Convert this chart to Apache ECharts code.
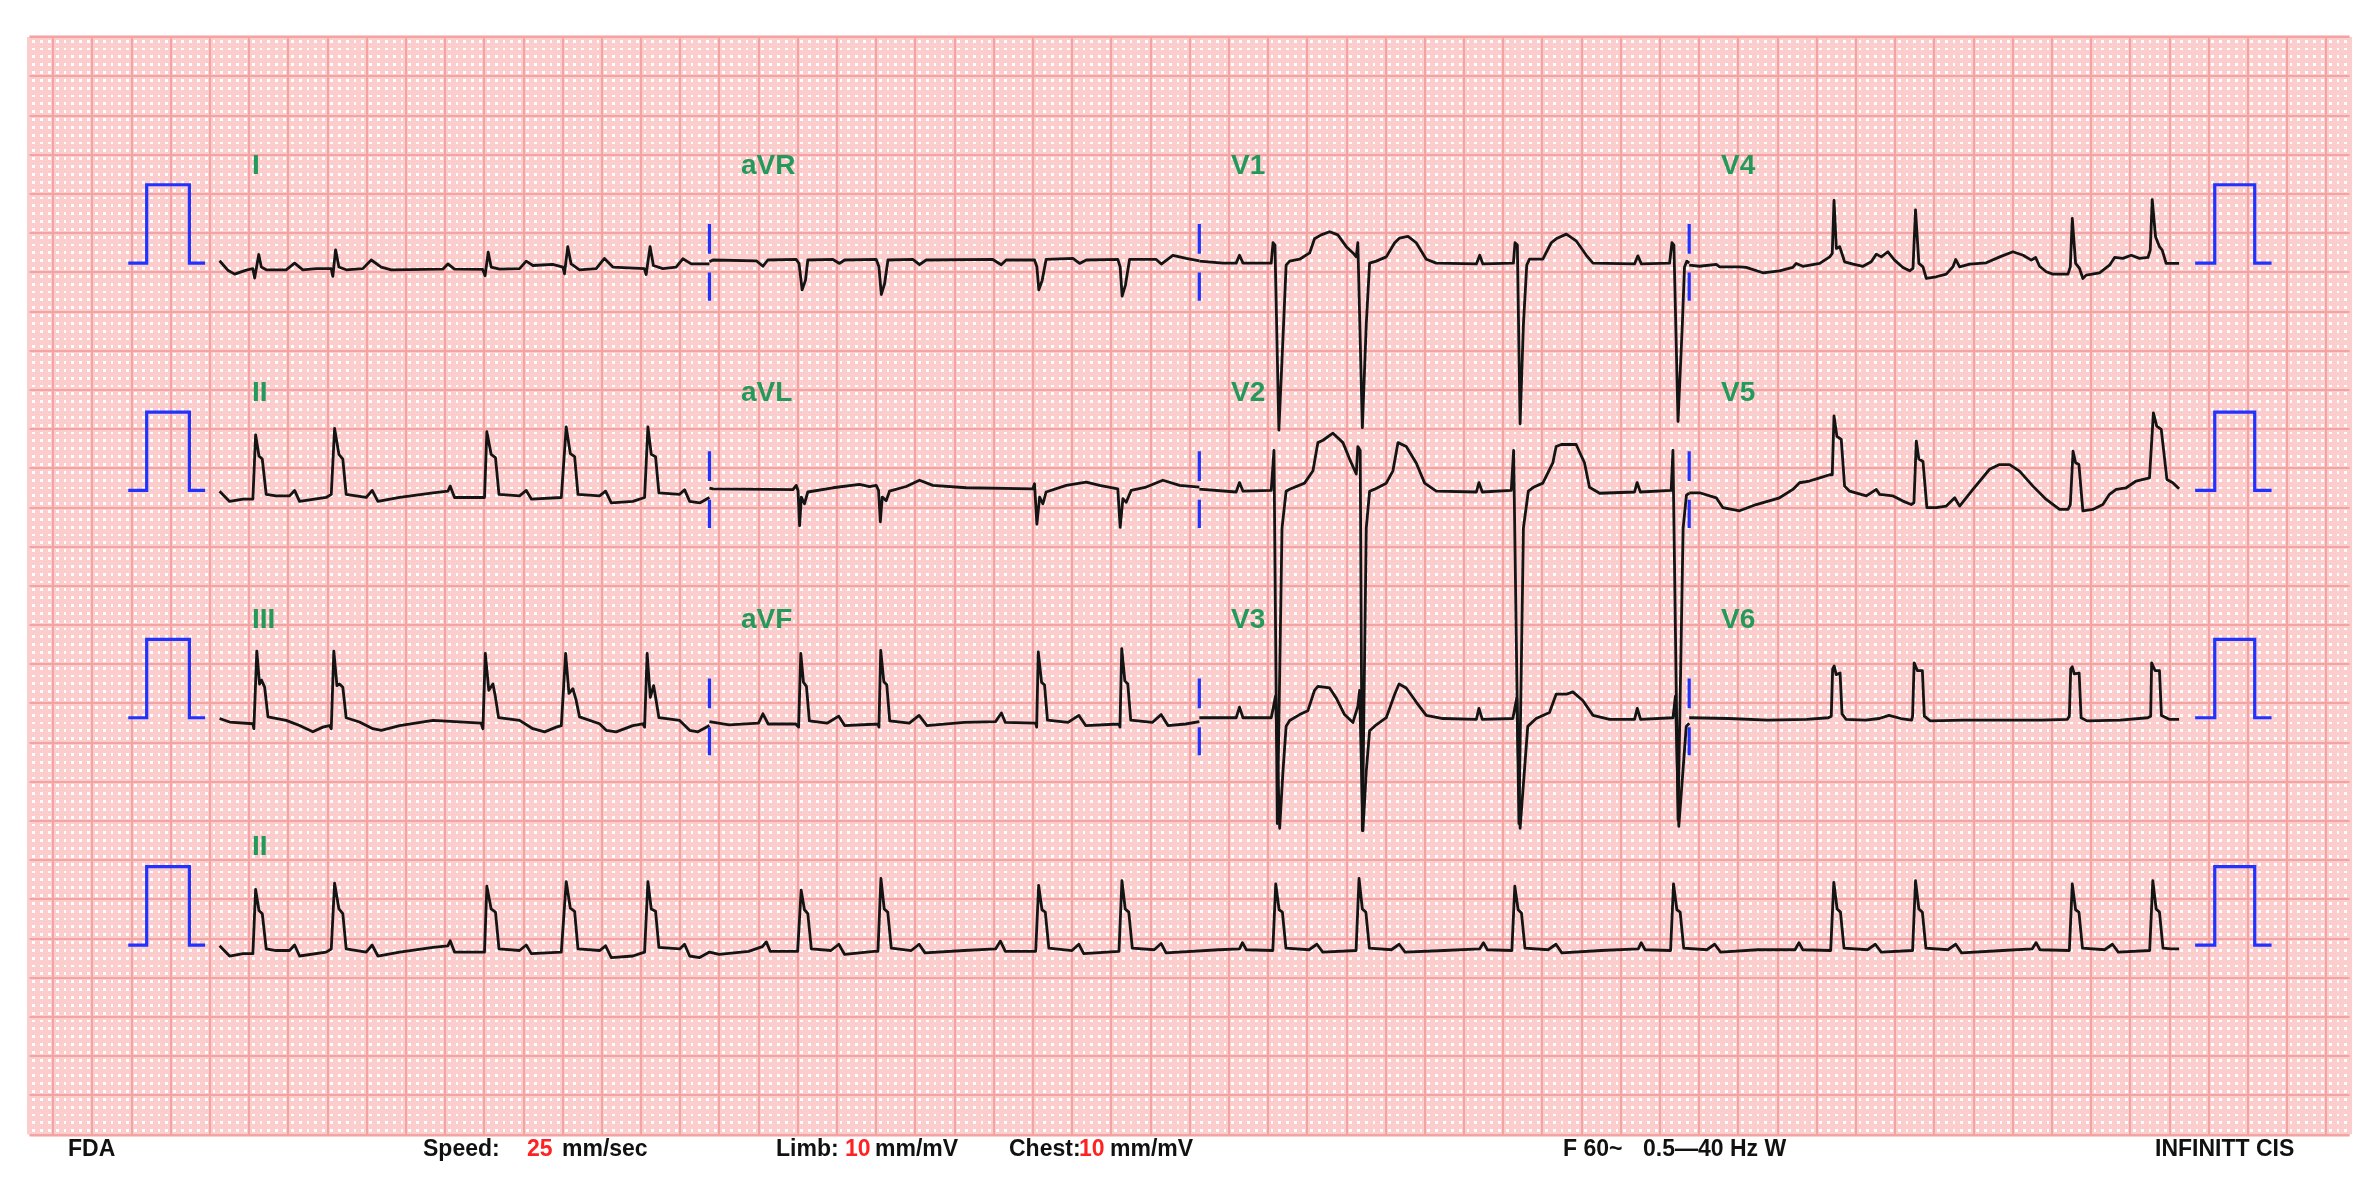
<!DOCTYPE html>
<html><head><meta charset="utf-8">
<script src="https://cdn.jsdelivr.net/npm/echarts/dist/echarts.min.js"></script>
<style>html,body{margin:0;padding:0;background:#fff;}#c{width:2368px;height:1183px;}</style>
</head><body><div id="c"></div>
<script>
// ---- data: [time (s), amplitude (mV)] ----
const leadI = [[0.000,0.03],[0.042,-0.09],[0.077,-0.14],[0.136,-0.09],[0.170,-0.07],[0.179,-0.19],[0.200,0.11],[0.213,-0.05],[0.238,-0.085],[0.340,-0.085],[0.383,0.0],[0.425,-0.085],[0.493,-0.07],[0.570,-0.07],[0.578,-0.17],[0.592,0.17],[0.609,-0.05],[0.646,-0.085],[0.731,-0.07],[0.774,0.04],[0.825,-0.05],[0.876,-0.085],[1.139,-0.077],[1.165,-0.01],[1.199,-0.077],[1.343,-0.08],[1.355,-0.16],[1.371,0.14],[1.386,-0.05],[1.429,-0.077],[1.531,-0.07],[1.565,0.025],[1.599,-0.03],[1.700,-0.017],[1.752,-0.05],[1.760,-0.136],[1.777,0.21],[1.794,-0.01],[1.837,-0.085],[1.922,-0.07],[1.964,0.06],[2.007,-0.05],[2.168,-0.07],[2.177,-0.145],[2.197,0.21],[2.214,-0.03],[2.262,-0.07],[2.330,-0.05],[2.364,0.055],[2.407,-0.01],[2.500,-0.01]];
const leadII = [[0.000,-0.01],[0.051,-0.14],[0.120,-0.11],[0.170,-0.11],[0.184,0.71],[0.201,0.44],[0.218,0.40],[0.238,-0.05],[0.289,-0.07],[0.357,-0.07],[0.383,0.00],[0.408,-0.14],[0.544,-0.09],[0.570,-0.05],[0.587,0.79],[0.609,0.46],[0.629,0.40],[0.646,-0.05],[0.748,-0.09],[0.779,0.00],[0.808,-0.14],[0.919,-0.09],[1.089,-0.03],[1.165,-0.01],[1.177,0.055],[1.199,-0.09],[1.352,-0.09],[1.364,0.75],[1.386,0.46],[1.408,0.42],[1.426,-0.05],[1.531,-0.07],[1.565,0.00],[1.591,-0.11],[1.744,-0.09],[1.769,0.81],[1.790,0.47],[1.812,0.43],[1.829,-0.05],[1.939,-0.07],[1.970,-0.01],[1.999,-0.16],[2.109,-0.14],[2.169,-0.09],[2.186,0.81],[2.203,0.46],[2.225,0.43],[2.242,-0.03],[2.348,-0.05],[2.373,0.01],[2.399,-0.14],[2.450,-0.16],[2.500,-0.09]];
const leadIII = [[0.000,-0.01],[0.051,-0.055],[0.170,-0.077],[0.175,-0.14],[0.190,0.85],[0.204,0.43],[0.214,0.48],[0.230,0.39],[0.247,0.01],[0.340,-0.034],[0.408,-0.10],[0.476,-0.18],[0.527,-0.12],[0.561,-0.10],[0.570,-0.14],[0.583,0.85],[0.599,0.41],[0.612,0.43],[0.629,0.39],[0.646,0.00],[0.714,-0.055],[0.782,-0.14],[0.825,-0.16],[0.919,-0.10],[1.089,-0.034],[1.335,-0.07],[1.344,-0.14],[1.356,0.82],[1.374,0.35],[1.395,0.43],[1.408,0.26],[1.424,0.00],[1.531,-0.034],[1.599,-0.14],[1.659,-0.18],[1.718,-0.12],[1.744,-0.10],[1.752,-0.12],[1.766,0.82],[1.783,0.31],[1.803,0.37],[1.820,0.22],[1.837,0.01],[1.939,-0.077],[1.973,-0.16],[2.024,-0.18],[2.109,-0.10],[2.160,-0.077],[2.169,-0.12],[2.182,0.82],[2.198,0.26],[2.215,0.41],[2.228,0.22],[2.242,0.00],[2.348,-0.034],[2.399,-0.16],[2.441,-0.18],[2.500,-0.10]];
const leadAVR = [[2.500,0.017],[2.518,0.04],[2.739,0.03],[2.773,-0.04],[2.798,0.04],[2.943,0.047],[2.957,-0.004],[2.973,-0.34],[2.990,-0.22],[3.002,0.04],[3.130,0.047],[3.164,-0.004],[3.190,0.04],[3.351,0.047],[3.365,-0.047],[3.377,-0.40],[3.394,-0.26],[3.411,0.04],[3.538,0.047],[3.572,-0.02],[3.606,0.04],[3.946,0.047],[3.989,-0.02],[4.014,0.04],[4.159,0.04],[4.171,-0.047],[4.181,-0.34],[4.198,-0.22],[4.218,0.047],[4.355,0.06],[4.389,-0.004],[4.423,0.04],[4.584,0.047],[4.596,-0.047],[4.606,-0.42],[4.623,-0.28],[4.644,0.047],[4.780,0.047],[4.806,-0.012],[4.865,0.10],[4.933,0.06],[5.000,0.03]];
const leadAVL = [[2.500,0.03],[2.518,0.02],[2.926,0.01],[2.943,0.064],[2.952,0.0],[2.960,-0.45],[2.969,-0.085],[2.985,-0.17],[3.002,-0.02],[3.130,0.034],[3.266,0.077],[3.317,0.05],[3.351,0.064],[3.363,0.0],[3.372,-0.40],[3.382,-0.085],[3.402,-0.13],[3.419,-0.01],[3.504,0.05],[3.572,0.13],[3.640,0.064],[3.810,0.034],[4.150,0.02],[4.159,0.085],[4.171,-0.43],[4.185,-0.085],[4.202,-0.17],[4.218,-0.02],[4.321,0.064],[4.423,0.106],[4.491,0.064],[4.584,0.02],[4.596,-0.47],[4.610,-0.106],[4.627,-0.15],[4.652,0.0],[4.729,0.043],[4.814,0.13],[4.899,0.064],[5.000,0.043]];
const leadAVF = [[2.500,-0.05],[2.600,-0.09],[2.750,-0.07],[2.773,0.05],[2.800,-0.08],[2.940,-0.08],[2.955,-0.12],[2.966,0.82],[2.980,0.45],[2.995,0.40],[3.010,-0.04],[3.100,-0.07],[3.160,0.02],[3.190,-0.10],[3.360,-0.08],[3.365,-0.12],[3.374,0.86],[3.390,0.46],[3.405,0.42],[3.420,-0.04],[3.520,-0.07],[3.570,0.03],[3.610,-0.10],[3.800,-0.06],[3.960,-0.05],[3.990,0.06],[4.010,-0.06],[4.165,-0.07],[4.170,-0.12],[4.178,0.84],[4.195,0.45],[4.210,0.42],[4.225,-0.03],[4.330,-0.06],[4.385,0.03],[4.420,-0.10],[4.590,-0.08],[4.595,-0.12],[4.604,0.88],[4.620,0.47],[4.635,0.43],[4.650,-0.03],[4.760,-0.06],[4.805,0.04],[4.840,-0.10],[4.930,-0.08],[5.000,-0.05]];
const leadV1 = [[5.000,0.026],[5.120,0.0],[5.188,0.0],[5.205,0.10],[5.223,0.0],[5.367,0.0],[5.376,0.26],[5.386,0.23],[5.406,-2.13],[5.430,-0.78],[5.443,-0.026],[5.461,0.026],[5.512,0.05],[5.563,0.13],[5.588,0.31],[5.622,0.36],[5.665,0.40],[5.707,0.36],[5.750,0.21],[5.784,0.13],[5.801,0.08],[5.809,0.26],[5.818,0.26],[5.832,-2.10],[5.852,-0.78],[5.869,0.0],[5.903,0.026],[5.954,0.08],[5.997,0.26],[6.022,0.32],[6.065,0.34],[6.107,0.26],[6.158,0.05],[6.209,0.0],[6.414,-0.01],[6.431,0.10],[6.447,-0.01],[6.603,0.0],[6.611,0.26],[6.623,0.23],[6.637,-2.05],[6.654,-0.78],[6.671,-0.026],[6.685,0.05],[6.753,0.05],[6.796,0.26],[6.821,0.31],[6.873,0.37],[6.923,0.285],[6.975,0.10],[7.009,0.0],[7.221,-0.01],[7.238,0.093],[7.256,-0.01],[7.400,0.0],[7.412,0.26],[7.422,0.23],[7.443,-2.02],[7.465,-0.78],[7.476,-0.05],[7.488,0.026],[7.500,0.0]];
const leadV2 = [[5.000,0.016],[5.188,-0.02],[5.205,0.10],[5.223,-0.01],[5.367,0.0],[5.381,0.51],[5.398,-4.25],[5.422,-0.48],[5.443,-0.01],[5.461,0.016],[5.537,0.093],[5.580,0.25],[5.605,0.61],[5.631,0.64],[5.682,0.73],[5.733,0.61],[5.767,0.40],[5.801,0.21],[5.809,0.56],[5.821,0.51],[5.832,-4.34],[5.852,-0.48],[5.869,-0.01],[5.895,0.016],[5.954,0.093],[5.988,0.25],[6.014,0.61],[6.056,0.56],[6.107,0.35],[6.150,0.093],[6.209,-0.01],[6.414,-0.02],[6.427,0.10],[6.444,-0.02],[6.592,0.0],[6.604,0.51],[6.631,-4.25],[6.654,-0.48],[6.679,-0.01],[6.705,0.04],[6.753,0.093],[6.804,0.35],[6.821,0.56],[6.847,0.586],[6.923,0.586],[6.966,0.35],[6.991,0.04],[7.043,-0.036],[7.221,-0.02],[7.234,0.10],[7.251,-0.02],[7.408,0.0],[7.417,0.51],[7.443,-4.20],[7.469,-0.48],[7.486,-0.06],[7.500,-0.036]];
const leadV3 = [[5.000,0.0],[5.188,0.0],[5.205,0.135],[5.223,0.0],[5.367,0.0],[5.389,0.275],[5.410,-1.41],[5.427,-0.68],[5.443,-0.11],[5.461,-0.036],[5.512,0.04],[5.554,0.09],[5.588,0.35],[5.605,0.40],[5.665,0.38],[5.699,0.25],[5.741,0.04],[5.784,-0.06],[5.809,0.145],[5.818,0.35],[5.835,-1.44],[5.852,-0.68],[5.869,-0.166],[5.903,-0.09],[5.954,0.0],[5.997,0.30],[6.019,0.43],[6.056,0.38],[6.107,0.20],[6.158,0.03],[6.243,-0.01],[6.414,-0.02],[6.427,0.12],[6.444,-0.02],[6.600,-0.01],[6.620,0.25],[6.637,-1.41],[6.659,-0.68],[6.676,-0.11],[6.719,-0.01],[6.787,0.067],[6.821,0.30],[6.873,0.30],[6.906,0.33],[6.957,0.22],[7.009,0.03],[7.094,-0.02],[7.221,-0.02],[7.235,0.12],[7.252,-0.02],[7.417,0.0],[7.430,0.275],[7.447,-1.385],[7.468,-0.68],[7.485,-0.11],[7.500,-0.07]];
const leadV4 = [[7.500,-0.026],[7.553,-0.04],[7.638,-0.017],[7.655,-0.047],[7.757,-0.047],[7.791,-0.055],[7.876,-0.123],[7.961,-0.098],[8.029,-0.055],[8.046,-0.004],[8.080,-0.04],[8.166,-0.004],[8.217,0.08],[8.230,0.123],[8.239,0.80],[8.251,0.187],[8.268,0.21],[8.293,0.017],[8.336,-0.013],[8.387,-0.04],[8.429,0.017],[8.455,0.115],[8.480,0.08],[8.514,0.145],[8.548,0.038],[8.591,-0.055],[8.625,-0.098],[8.642,-0.068],[8.655,0.68],[8.672,-0.004],[8.693,-0.047],[8.710,-0.196],[8.761,-0.174],[8.812,-0.14],[8.846,-0.047],[8.860,0.047],[8.880,-0.047],[8.931,-0.013],[9.016,0.004],[9.085,0.08],[9.152,0.145],[9.204,0.10],[9.246,0.038],[9.268,0.072],[9.288,-0.04],[9.322,-0.11],[9.356,-0.14],[9.433,-0.14],[9.445,-0.047],[9.455,0.57],[9.472,-0.004],[9.492,-0.068],[9.509,-0.196],[9.526,-0.153],[9.594,-0.123],[9.645,-0.026],[9.671,0.072],[9.713,0.06],[9.756,0.10],[9.798,0.06],[9.841,0.072],[9.853,0.166],[9.863,0.81],[9.880,0.336],[9.900,0.21],[9.914,0.166],[9.934,-0.004],[10.000,-0.004]];
const leadV5 = [[7.500,-0.03],[7.553,-0.03],[7.638,-0.094],[7.672,-0.22],[7.757,-0.26],[7.842,-0.18],[7.961,-0.094],[8.029,0.013],[8.063,0.098],[8.114,0.12],[8.166,0.16],[8.217,0.20],[8.230,0.20],[8.239,0.95],[8.254,0.69],[8.276,0.65],[8.293,0.055],[8.319,-0.01],[8.404,-0.07],[8.455,0.013],[8.472,-0.05],[8.540,-0.07],[8.591,-0.136],[8.633,-0.18],[8.647,-0.157],[8.659,0.63],[8.672,0.40],[8.693,0.37],[8.713,-0.22],[8.761,-0.22],[8.812,-0.20],[8.855,-0.094],[8.880,-0.20],[8.948,0.013],[9.033,0.27],[9.084,0.33],[9.135,0.33],[9.186,0.247],[9.254,0.055],[9.322,-0.115],[9.390,-0.243],[9.433,-0.243],[9.445,-0.18],[9.459,0.50],[9.472,0.353],[9.489,0.33],[9.509,-0.26],[9.560,-0.243],[9.611,-0.18],[9.645,-0.05],[9.679,0.013],[9.730,0.034],[9.781,0.12],[9.849,0.16],[9.869,0.99],[9.886,0.82],[9.909,0.78],[9.938,0.14],[9.968,0.098],[10.000,0.02]];
const leadV6 = [[7.500,0.0],[7.700,-0.01],[7.900,-0.03],[8.100,-0.02],[8.210,0.0],[8.225,0.02],[8.232,0.62],[8.240,0.66],[8.250,0.55],[8.270,0.57],[8.280,0.05],[8.300,-0.02],[8.400,-0.03],[8.470,-0.01],[8.520,0.03],[8.580,-0.01],[8.635,-0.03],[8.640,0.02],[8.648,0.70],[8.655,0.72],[8.665,0.60],[8.690,0.60],[8.700,0.02],[8.730,-0.04],[8.900,-0.03],[9.100,-0.03],[9.300,-0.03],[9.430,-0.02],[9.440,0.02],[9.447,0.62],[9.455,0.65],[9.465,0.56],[9.490,0.57],[9.500,0.0],[9.530,-0.04],[9.700,-0.03],[9.840,0.0],[9.855,0.02],[9.860,0.70],[9.868,0.72],[9.878,0.60],[9.900,0.60],[9.910,0.03],[9.950,-0.02],[10.000,-0.02]];
const rhythmIIRest = [[2.550,-0.12],[2.700,-0.08],[2.770,-0.02],[2.790,0.04],[2.810,-0.08],[2.950,-0.08],[2.968,0.70],[2.985,0.45],[3.002,0.40],[3.020,-0.05],[3.120,-0.07],[3.160,0.01],[3.190,-0.12],[3.340,-0.08],[3.360,-0.08],[3.375,0.85],[3.392,0.46],[3.410,0.42],[3.428,-0.04],[3.530,-0.07],[3.570,0.01],[3.600,-0.10],[3.800,-0.07],[3.960,-0.05],[3.985,0.05],[4.010,-0.08],[4.165,-0.08],[4.180,0.76],[4.197,0.45],[4.214,0.42],[4.232,-0.04],[4.350,-0.07],[4.385,0.01],[4.410,-0.11],[4.590,-0.08],[4.605,0.82],[4.622,0.46],[4.640,0.42],[4.658,-0.04],[4.770,-0.06],[4.805,0.02],[4.830,-0.10],[5.100,-0.06],[5.205,-0.05],[5.220,0.03],[5.240,-0.06],[5.375,-0.07],[5.390,0.78],[5.407,0.45],[5.424,0.42],[5.442,-0.04],[5.560,-0.06],[5.600,0.01],[5.630,-0.09],[5.800,-0.07],[5.815,0.85],[5.832,0.46],[5.850,0.42],[5.868,-0.04],[5.980,-0.06],[6.020,0.01],[6.050,-0.09],[6.250,-0.07],[6.430,-0.05],[6.450,0.03],[6.470,-0.06],[6.595,-0.07],[6.610,0.75],[6.627,0.45],[6.644,0.41],[6.662,-0.04],[6.780,-0.06],[6.820,0.01],[6.850,-0.10],[7.050,-0.07],[7.240,-0.05],[7.255,0.03],[7.275,-0.06],[7.405,-0.07],[7.420,0.78],[7.437,0.45],[7.454,0.42],[7.472,-0.04],[7.590,-0.06],[7.630,0.01],[7.660,-0.09],[7.850,-0.06],[8.040,-0.06],[8.060,0.03],[8.080,-0.06],[8.222,-0.07],[8.238,0.80],[8.255,0.46],[8.272,0.42],[8.290,-0.04],[8.410,-0.06],[8.450,0.01],[8.480,-0.09],[8.640,-0.07],[8.655,0.82],[8.672,0.46],[8.690,0.42],[8.708,-0.04],[8.820,-0.06],[8.860,0.01],[8.890,-0.10],[9.100,-0.07],[9.250,-0.05],[9.270,0.03],[9.290,-0.06],[9.440,-0.07],[9.455,0.78],[9.472,0.45],[9.489,0.42],[9.507,-0.04],[9.620,-0.06],[9.660,0.01],[9.690,-0.09],[9.850,-0.07],[9.866,0.82],[9.883,0.46],[9.900,0.42],[9.918,-0.04],[9.960,-0.05],[10.000,-0.05]];
const rhythmII = leadII.concat(rhythmIIRest);

// layout: which lead goes on which row
const rows = [
  [['I', leadI], ['aVR', leadAVR], ['V1', leadV1], ['V4', leadV4]],
  [['II', leadII], ['aVL', leadAVL], ['V2', leadV2], ['V5', leadV5]],
  [['III', leadIII], ['aVF', leadAVF], ['V3', leadV3], ['V6', leadV6]],
  [['II', rhythmII]]
];
const boundaryT = [2.5, 5, 7.5];
const calLeftT = [-0.466, -0.372, -0.154, -0.074];
const calRightT = [10.082, 10.182, 10.386, 10.472];
const calMv = 1.0;
const markerMv = [[0.12, 0.5], [-0.12, -0.48]];

// ---- paper geometry ----
const MM = 7.838;            // px per mm
const PAPER_LEFT = 29.5, PAPER_TOP = 37;
const PAPER_W_MM = 296, PAPER_H_MM = 140;
const X0 = 24.25;            // mm from paper left where t=0
const SPEED = 25, GAIN = 10; // mm/s, mm/mV
const ROWBASE = [28.85, 57.85, 86.85, 115.85];

const MINOR = '#fbcdcd', MAJOR = '#f4a2a2';
const TRACE = '#141414', BLUE = '#2233ff', GREEN = '#23995a';

const xy = (t, v, row) => [X0 + SPEED * t, ROWBASE[row] - GAIN * v];

const series = [];
rows.forEach((row, r) => {
  row.forEach(([name, pts]) => {
    series.push({
      type: 'line', name: name + '_' + r, xAxisIndex: 0, yAxisIndex: 0,
      data: pts.map(p => xy(p[0], p[1], r)),
      showSymbol: false, symbol: 'none', silent: true, animation: false,
      lineStyle: { color: TRACE, width: 2.8, join: 'round' }, z: 5
    });
  });
});

// calibration pulses + lead boundary markers
const blueLines = [];
for (let r = 0; r < 4; r++) {
  [calLeftT, calRightT].forEach(c => {
    blueLines.push({ coords: [xy(c[0],0,r), xy(c[1],0,r), xy(c[1],calMv,r), xy(c[2],calMv,r), xy(c[2],0,r), xy(c[3],0,r)] });
  });
  if (r < 3) boundaryT.forEach(t => {
    markerMv.forEach(m => blueLines.push({ coords: [xy(t, m[0], r), xy(t, m[1], r)] }));
  });
}
series.push({
  type: 'lines', coordinateSystem: 'cartesian2d', xAxisIndex: 0, yAxisIndex: 0,
  polyline: true, data: blueLines, silent: true, animation: false,
  lineStyle: { color: BLUE, width: 3.2, opacity: 1, curveness: 0 }, z: 6
});

const hidden = { axisLine: { show: false }, axisTick: { show: false }, axisLabel: { show: false } };
const option = {
  backgroundColor: '#ffffff',
  animation: false,
  grid: [
    { left: PAPER_LEFT, top: PAPER_TOP, width: PAPER_W_MM * MM, height: PAPER_H_MM * MM, show: false },
    { left: PAPER_LEFT + 3 * MM, top: PAPER_TOP, width: 290 * MM, height: PAPER_H_MM * MM, show: false }
  ],
  xAxis: [
    Object.assign({ gridIndex: 0, type: 'value', min: 0, max: PAPER_W_MM, interval: 1, z: 0,
      splitLine: { show: true, lineStyle: { color: MINOR, width: 5 } } }, hidden),
    Object.assign({ gridIndex: 1, type: 'value', min: 0, max: 290, interval: 5, z: 1,
      splitLine: { show: true, lineStyle: { color: MAJOR, width: 2 } } }, hidden)
  ],
  yAxis: [
    Object.assign({ gridIndex: 0, type: 'value', inverse: true, min: 0, max: PAPER_H_MM, interval: 1, z: 0,
      splitLine: { show: true, lineStyle: { color: MINOR, width: 5 } } }, hidden),
    Object.assign({ gridIndex: 0, type: 'value', inverse: true, min: 0, max: PAPER_H_MM, interval: 5, z: 1,
      splitLine: { show: true, lineStyle: { color: MAJOR, width: 2 } } }, hidden),
    Object.assign({ gridIndex: 1, type: 'value', min: 0, max: 1, splitLine: { show: false } }, hidden)
  ],
  series: series
};

// lead labels & footer as real text
const labelX = [252, 741, 1231, 1721];
const labelY = [166, 393, 620, 847];
const graphics = [];
rows.forEach((row, r) => row.forEach(([name], c) => {
  graphics.push({ type: 'text', x: labelX[c], y: labelY[r], z: 100, silent: true,
    style: { text: name, font: 'bold 28px "Liberation Sans", Arial, sans-serif', fill: GREEN, verticalAlign: 'middle' } });
}));
const footFont = 'bold 23px "Liberation Sans", Arial, sans-serif';
const footer = [
  [68, 'FDA', '#111'], [423, 'Speed:', '#111'], [527, '25', '#ff2222'], [562, 'mm/sec', '#111'],
  [776, 'Limb:', '#111'], [845, '10', '#ff2222'], [875, 'mm/mV', '#111'],
  [1009, 'Chest:', '#111'], [1079, '10', '#ff2222'], [1110, 'mm/mV', '#111'],
  [1563, 'F 60~', '#111'], [1643, '0.5\u201440 Hz W', '#111'], [2155, 'INFINITT CIS', '#111']
];
footer.forEach(([x, s, col]) => graphics.push({ type: 'text', x: x, y: 1150, z: 100, silent: true,
  style: { text: s, font: footFont, fill: col, verticalAlign: 'middle' } }));
option.graphic = { elements: graphics };

const chart = echarts.init(document.getElementById('c'), null, { renderer: 'canvas' });
chart.setOption(option);
</script>
</body></html>
